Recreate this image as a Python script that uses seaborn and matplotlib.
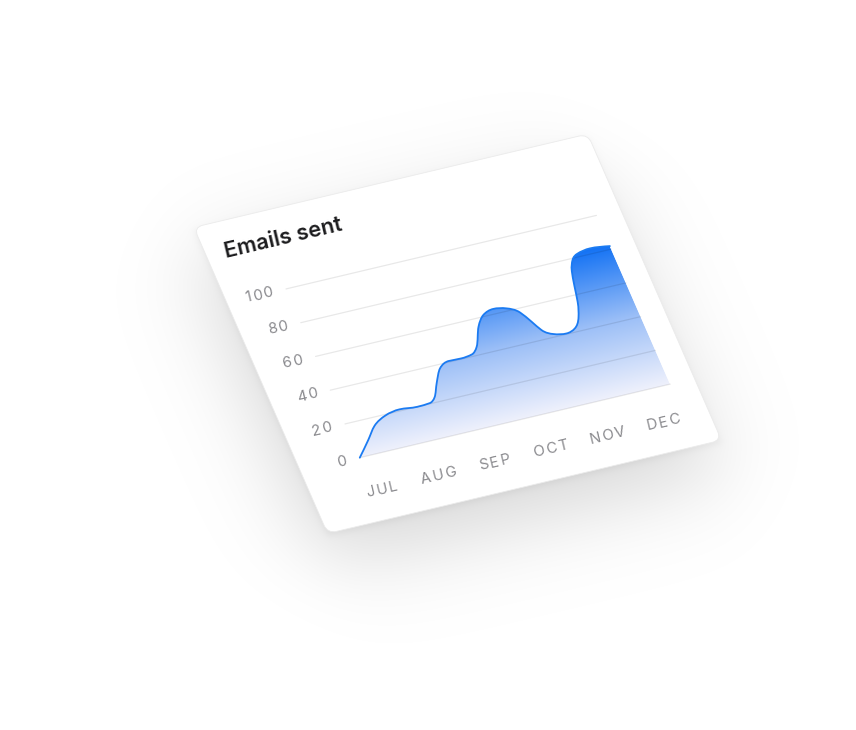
import numpy as np
import matplotlib
matplotlib.use("Agg")
import matplotlib.pyplot as plt
import seaborn as sns
from matplotlib.transforms import Affine2D
from matplotlib.patches import FancyBboxPatch, PathPatch
from matplotlib.path import Path
from matplotlib.colors import LinearSegmentedColormap
from matplotlib.font_manager import FontProperties

# chart data (x = month index)
months = ["JUL", "AUG", "SEP", "OCT", "NOV", "DEC"]
y_ticks = [0, 20, 40, 60, 80, 100]
curve_x = [-0.13, 0.13, 0.33, 0.58, 0.85, 1.15, 1.38, 1.50, 1.63, 1.79, 1.98,
           2.20, 2.40, 2.53, 2.70, 2.86, 3.06, 3.28, 3.47, 3.59, 3.69, 3.85,
           4.07, 4.24, 4.38, 4.47, 4.53, 4.59, 4.68, 4.80, 5.04, 5.38]
curve_v = [0, 8.4, 15.2, 19.4, 20.9, 20.0, 20.4, 23.0, 30.2, 37.8, 40.6,
           40.4, 41.2, 44.7, 55.2, 60.9, 62.9, 61.5, 57.5, 51.1, 45.4, 41.8,
           40.4, 42.1, 47.9, 56.0, 65.0, 73.0, 79.0, 81.8, 83.1, 81.8]

W, H = 856, 730
PX_X, PX_V = 57.9, 1.8416          # pixels per month / per value unit along the card
plot_x0, plot_x1 = -0.13, 5.38
card_x0, card_x1, card_v0, card_v1 = -1.18, 5.81, -36.6, 144.8


def smooth_path(xs, ys):
    """Monotone cubic (like d3 curveMonotoneX) through the points, as Bezier segments."""
    xs, ys = np.asarray(xs, float), np.asarray(ys, float)
    h = np.diff(xs)
    d = np.diff(ys) / h
    m = np.zeros_like(xs)
    for i in range(1, len(xs) - 1):
        if d[i - 1] * d[i] > 0:
            p = (d[i - 1] * h[i] + d[i] * h[i - 1]) / (h[i - 1] + h[i])
            m[i] = np.sign(d[i]) * min(abs(p), 2 * abs(d[i - 1]), 2 * abs(d[i]))
    m[0] = (3 * d[0] - m[1]) / 2
    m[-1] = (3 * d[-1] - m[-2]) / 2
    verts, codes = [(xs[0], ys[0])], [Path.MOVETO]
    for i in range(len(h)):
        t = h[i] / 3
        verts += [(xs[i] + t, ys[i] + m[i] * t),
                  (xs[i + 1] - t, ys[i + 1] - m[i + 1] * t),
                  (xs[i + 1], ys[i + 1])]
        codes += [Path.CURVE4] * 3
    return verts, codes


sns.set_theme(style="white")
plt.rcParams["font.family"] = ["Inter", "DejaVu Sans"]

fig = plt.figure(figsize=(W / 100, H / 100), dpi=100)
ax = fig.add_axes([0, 0, 1, 1])
ax.set_xlim(0, W)
ax.set_ylim(0, H)

# (month, value) -> tilted card on the page (pixels, y up)
tilt = Affine2D(np.array([[56.34, -0.7375, 367.1],
                          [13.35, 1.6875, 274.05],
                          [0.0, 0.0, 1.0]]))
T = tilt + ax.transData
ang = np.degrees(np.arctan2(13.35, 56.34))
u = np.array([np.cos(np.radians(ang)), np.sin(np.radians(ang))])

# soft drop shadow under the card
inv = tilt.inverted()
gx, gy = np.meshgrid(np.arange(W) + 0.5, np.arange(H) + 0.5)


def card_alpha(offset, sigma):
    loc = inv.transform(np.column_stack([gx.ravel(), gy.ravel() + offset]))
    s = loc[:, 0] * PX_X
    h = loc[:, 1] * PX_V
    f = lambda z: 0.5 * (1 + np.tanh(0.9 * z))
    a = (f((s - card_x0 * PX_X) / sigma) * f((card_x1 * PX_X - s) / sigma)
         * f((h - card_v0 * PX_V) / sigma) * f((card_v1 * PX_V - h) / sigma))
    return a.reshape(H, W)


shadow = np.zeros((H, W, 4))
shadow[..., 3] = np.clip(0.16 * card_alpha(34, 48) + 0.05 * card_alpha(3, 4), 0, 1)
ax.imshow(shadow, extent=(0, W, 0, H), origin="lower", zorder=0,
          interpolation="bilinear", aspect="auto")

card = FancyBboxPatch((card_x0, card_v0), card_x1 - card_x0, card_v1 - card_v0,
                      boxstyle="round,pad=0,rounding_size=0.16",
                      mutation_aspect=PX_X / PX_V, transform=T,
                      fc="white", ec="#ebebeb", lw=0.6, zorder=1)
ax.add_patch(card)

# gradient area under the curve
verts, codes = smooth_path(curve_x, curve_v)
area_path = Path(verts + [(plot_x1, 0), (plot_x0, 0), (plot_x0, 0)],
                 codes + [Path.LINETO, Path.LINETO, Path.CLOSEPOLY])
cmap = LinearSegmentedColormap.from_list(
    "fade", [(0, "#eff1fc"), (0.5, "#9abef7"), (1, "#1372f4")])
im = ax.imshow(np.linspace(0, 1, 256).reshape(-1, 1), cmap=cmap, origin="lower",
               extent=(plot_x0, plot_x1, 0, max(curve_v)), aspect="auto",
               interpolation="bilinear", zorder=3, transform=T)
im.set_clip_path(area_path, T)

for v in y_ticks:
    ax.plot([plot_x0, plot_x1], [v, v], transform=T, color="black",
            alpha=0.09, lw=0.9, zorder=4)

ax.add_patch(PathPatch(Path(verts, codes), transform=T, fill=False,
                       ec="#1b7bf2", lw=1.3, zorder=5, capstyle="round"))

# tick labels with letter spacing, laid along the tilted baseline
renderer = fig.canvas.get_renderer()
tick_font = FontProperties(family=["Inter", "DejaVu Sans"], size=10.8)
TRACK = 1.6


def spaced_label(x, v, label, align):
    widths = [renderer.get_text_width_height_descent(c, tick_font, ismath=False)[0]
              for c in label]
    total = sum(widths) + TRACK * (len(label) - 1)
    start = np.array(tilt.transform((x, v))) - (total / 2 if align == "center" else total) * u
    pos = 0.0
    for c, w in zip(label, widths):
        px, py = start + pos * u
        ax.text(px, py, c, rotation=ang, rotation_mode="anchor", ha="left",
                va="center", fontproperties=tick_font, color="#8a8a8e")
        pos += w + TRACK


for v in y_ticks:
    spaced_label(-0.363, v, str(v), "right")
for i, m in enumerate(months):
    spaced_label(i, -19.8, m, "center")

ax.text(-0.85, 127.7, "Emails sent", transform=T, rotation=ang,
        rotation_mode="anchor", ha="left", va="center", fontsize=15.7,
        fontweight="semibold", color="#1c1c1e")

ax.set_xlim(0, W)
ax.set_ylim(0, H)
ax.axis("off")
fig.savefig("out.png", dpi=100, facecolor="white")
